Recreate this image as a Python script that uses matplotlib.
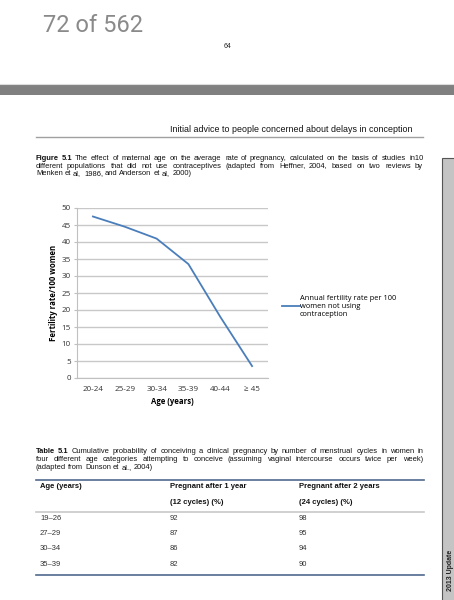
import matplotlib.pyplot as plt
from matplotlib.lines import Line2D
from matplotlib.patches import Rectangle

# ---- data ----
age_groups = ["20-24", "25-29", "30-34", "35-39", "40-44", "\u2265 45"]
fertility_rate = [47.5, 44.5, 41.0, 33.5, 18.0, 3.5]
y_ticks = list(range(0, 55, 5))

table_ages = ["19\u201326", "27\u201329", "30\u201334", "35\u201339"]
pregnant_1yr = [92, 87, 86, 82]
pregnant_2yr = [98, 95, 94, 90]

fig_caption = [
    "The effect of maternal age on the average rate of pregnancy, calculated on the basis of studies in10",
    "different populations that did not use contraceptives (adapted from Heffner, 2004, based on two reviews by",
    "Menken et al, 1986, and Anderson et al, 2000)",
]
table_caption = [
    "Cumulative probability of conceiving a clinical pregnancy by number of menstrual cycles in women in",
    "four different age categories attempting to conceive (assuming vaginal intercourse occurs twice per week)",
    "(adapted from Dunson et al., 2004)",
]

W, H = 454, 600
fig = plt.figure(figsize=(W / 100, H / 100), dpi=100)
fig.patch.set_facecolor("white")
renderer = fig.canvas.get_renderer()

def fx(x):
    return x / W

def fy(y):
    return 1 - y / H

def hline(x0, x1, y, color, lw):
    fig.add_artist(Line2D([fx(x0), fx(x1)], [fy(y), fy(y)], transform=fig.transFigure,
                          color=color, linewidth=lw))

def txt(x, y, s, **kw):
    kw.setdefault("family", "Liberation Sans")
    kw.setdefault("va", "center")
    return fig.text(fx(x), fy(y), s, **kw)

def paragraph(lines, label, x0, x1, ys, size):
    # justified text block, word by word, bold label in front of the first line
    for i, (line, y) in enumerate(zip(lines, ys)):
        words = [(w, "normal") for w in line.split()]
        if i == 0:
            words = [(w, "bold") for w in label.split()] + words
        objs = [txt(x0, y + 2, w, fontsize=size, fontweight=wt, color="#111111",
                    va="baseline") for w, wt in words]
        widths = [o.get_window_extent(renderer).width for o in objs]
        space = size * 100 / 72 * 0.28
        if i < len(lines) - 1:
            space = (x1 - x0 - sum(widths)) / (len(objs) - 1)
        x = x0
        for o, w in zip(objs, widths):
            o.set_x(fx(round(x)))
            x += w + space

# page header
txt(43, 25, "72 of 562", fontsize=17, color="#8a8a8a", family="Roboto")
txt(227, 47, "64", fontsize=5, ha="center", color="#222222")
fig.add_artist(Rectangle((0, fy(95)), 1, (95 - 84) / H, transform=fig.transFigure,
                         facecolor="#808080", edgecolor="none"))
hline(0, W, 83.5, "#dcdcdc", 0.8)
txt(413, 130, "Initial advice to people concerned about delays in conception",
    fontsize=6.4, ha="right", color="#111111")
hline(36, 423, 137, "#a0a0a0", 1.0)

# right sidebar
fig.add_artist(Rectangle((fx(442), fy(605)), (14) / W, (605 - 158) / H,
                         transform=fig.transFigure, facecolor="#c4c4c4",
                         edgecolor="#555555", linewidth=0.8))
txt(451, 570, "2013 Update", fontsize=5, rotation=90, ha="center",
    fontweight="bold", color="#222222")

# figure caption
paragraph(fig_caption, "Figure 5.1", 36, 423, [158, 165.5, 173], 5.4)

# chart
ax = fig.add_axes([fx(77), fy(378), (268 - 77) / W, (378 - 208) / H])
ax.plot(range(len(age_groups)), fertility_rate, color="#4a7ebb", linewidth=1.3,
        label="Annual fertility rate per 100\nwomen not using\ncontraception")
ax.set_xlim(-0.5, len(age_groups) - 0.5)
ax.set_ylim(0, 50)
ax.set_yticks(y_ticks)
ax.set_xticks(range(len(age_groups)))
ax.set_xticklabels(age_groups)
ax.yaxis.grid(True, color="#c8c8c8", linewidth=1.0)
ax.set_axisbelow(True)
for s in ["top", "right"]:
    ax.spines[s].set_visible(False)
ax.spines["left"].set_color("#c0c0c0")
ax.spines["bottom"].set_color("#c0c0c0")
ax.tick_params(axis="y", length=2.5, color="#c0c0c0", labelsize=5.8, pad=2, labelcolor="#333333")
ax.tick_params(axis="x", length=0, labelsize=5.8, pad=5.5, labelcolor="#333333")
for lab in ax.get_xticklabels() + ax.get_yticklabels():
    lab.set_family("Open Sans")
ax.set_xlabel("Age (years)", fontsize=5.6, fontweight="bold", family="Open Sans", labelpad=3.5)
ax.set_ylabel("Fertility rate/100 women", fontsize=5.6, fontweight="bold", family="Open Sans",
              labelpad=2.5)
leg = fig.legend(loc="center left", bbox_to_anchor=(fx(278), fy(306)), frameon=False,
                 prop={"family": "Open Sans", "size": 5.4}, handlelength=2.4,
                 handletextpad=0.05, borderpad=0, labelspacing=0.2)

# table caption
paragraph(table_caption, "Table 5.1", 36, 423, [451, 459, 467], 5.4)

# table
hline(36, 424, 480, "#4f6a8e", 1.2)
col_x = [40, 170, 299]
hdr = dict(fontsize=5.5, fontweight="bold", color="#111111")
txt(col_x[0], 486, "Age (years)", **hdr)
txt(col_x[1], 486, "Pregnant after 1 year", **hdr)
txt(col_x[2], 486, "Pregnant after 2 years", **hdr)
txt(col_x[1], 502, "(12 cycles) (%)", **hdr)
txt(col_x[2], 502, "(24 cycles) (%)", **hdr)
hline(36, 424, 512, "#c8c8c8", 1.2)
row_y = [518, 533.5, 549, 564.5]
for age, p1, p2, y in zip(table_ages, pregnant_1yr, pregnant_2yr, row_y):
    txt(col_x[0], y, age, fontsize=5.5, color="#333333")
    txt(col_x[1], y, str(p1), fontsize=5.5, color="#333333")
    txt(col_x[2], y, str(p2), fontsize=5.5, color="#333333")
hline(36, 424, 575, "#4f6a8e", 1.2)

fig.savefig("out.png", dpi=100)
